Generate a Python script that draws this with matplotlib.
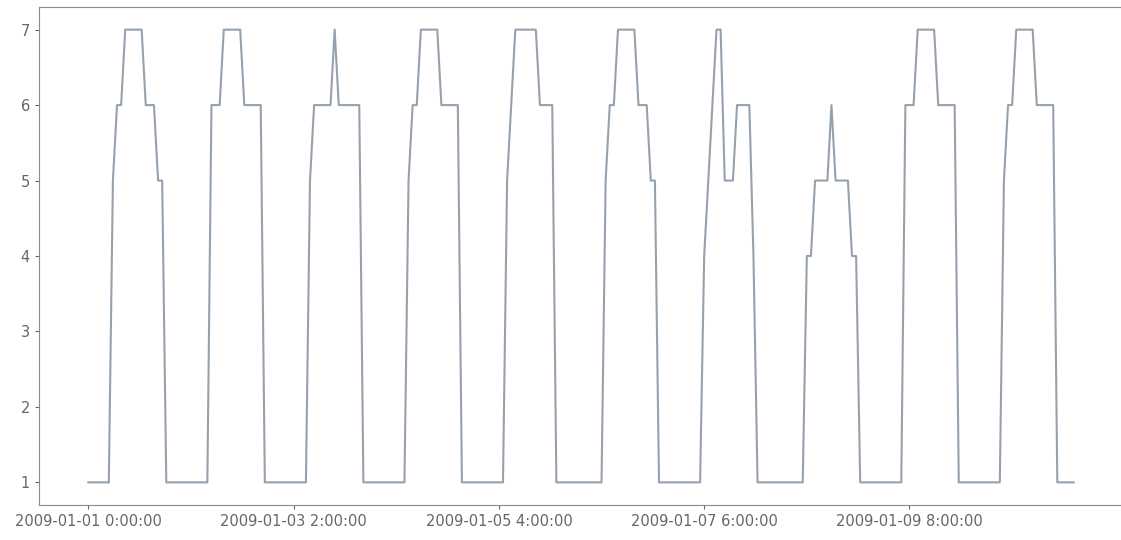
import matplotlib
matplotlib.use("Agg")
import matplotlib.pyplot as plt
import pandas as pd

# hourly readings, 2009-01-01 0:00 .. 2009-01-11 0:00 (one row per day)
values = [
    1, 1, 1, 1, 1, 1, 5, 6, 6, 7, 7, 7, 7, 7, 6, 6, 6, 5, 5, 1, 1, 1, 1, 1,
    1, 1, 1, 1, 1, 1, 6, 6, 6, 7, 7, 7, 7, 7, 6, 6, 6, 6, 6, 1, 1, 1, 1, 1,
    1, 1, 1, 1, 1, 1, 5, 6, 6, 6, 6, 6, 7, 6, 6, 6, 6, 6, 6, 1, 1, 1, 1, 1,
    1, 1, 1, 1, 1, 1, 5, 6, 6, 7, 7, 7, 7, 7, 6, 6, 6, 6, 6, 1, 1, 1, 1, 1,
    1, 1, 1, 1, 1, 1, 5, 6, 7, 7, 7, 7, 7, 7, 6, 6, 6, 6, 1, 1, 1, 1, 1, 1,
    1, 1, 1, 1, 1, 1, 5, 6, 6, 7, 7, 7, 7, 7, 6, 6, 6, 5, 5, 1, 1, 1, 1, 1,
    1, 1, 1, 1, 1, 1, 4, 5, 6, 7, 7, 5, 5, 5, 6, 6, 6, 6, 4, 1, 1, 1, 1, 1,
    1, 1, 1, 1, 1, 1, 1, 4, 4, 5, 5, 5, 5, 6, 5, 5, 5, 5, 4, 4, 1, 1, 1, 1,
    1, 1, 1, 1, 1, 1, 1, 6, 6, 6, 7, 7, 7, 7, 7, 6, 6, 6, 6, 6, 1, 1, 1, 1,
    1, 1, 1, 1, 1, 1, 1, 5, 6, 6, 7, 7, 7, 7, 7, 6, 6, 6, 6, 6, 1, 1, 1, 1,
    1,
]
start = "2009-01-01 00:00"
tick_pos = [0, 50, 100, 150, 200]

stamps = pd.date_range(start, periods=len(values), freq="h")
labels = [f"{t:%Y-%m-%d} {t.hour}:{t:%M:%S}" for t in stamps]
s = pd.Series(values, index=labels)

fig = plt.figure(figsize=(11.21, 5.40), dpi=100)
ax = fig.add_axes([39 / 1121, 35 / 540, 1084 / 1121, 498 / 540])
ax.plot(range(len(s)), s.values, color="#95a2ae", linewidth=1.5)

ax.set_xticks(tick_pos)
ax.set_xticklabels([s.index[i] for i in tick_pos])
ax.tick_params(labelsize=10.5, colors="#666666", length=3)
for sp in ax.spines.values():
    sp.set_color("#8a8a8a")

fig.savefig("out.png", dpi=100)
